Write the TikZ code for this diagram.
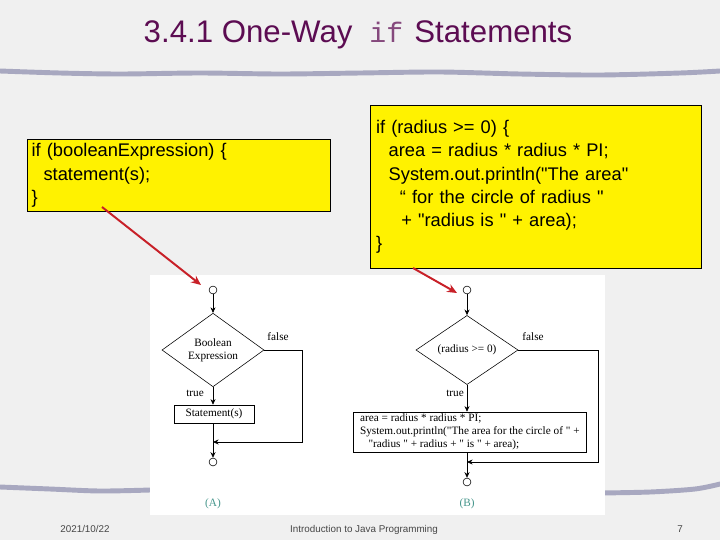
\documentclass[tikz,border=0pt]{standalone}
\usepackage{fontspec}
\setmainfont{Liberation Sans}[Ligatures=TeXOff]
\newfontfamily\chartfont{Liberation Serif}[Ligatures=TeXOff]
\setmonofont{Liberation Mono}
\usetikzlibrary{arrows.meta,shapes.geometric}
\definecolor{slidebg}{RGB}{240,240,240}
\definecolor{titlepurple}{RGB}{92,12,82}
\definecolor{barblue}{RGB}{168,168,192}
\definecolor{pointerred}{RGB}{200,32,40}
\definecolor{captionteal}{RGB}{70,150,140}
\definecolor{footgray}{RGB}{70,70,70}

\begin{document}
\begin{tikzpicture}[x=0.025cm,y=-0.025cm,>={Stealth[length=4pt,width=3.6pt]},
  codebox/.style={draw=black,fill=yellow,line width=0.6pt,anchor=north west,align=left,inner xsep=3pt,inner ysep=1pt,font=\fontsize{13}{16.5}\selectfont},
  terminal/.style={circle,draw,line width=0.4pt,minimum size=5.6pt,inner sep=0pt},
  decision/.style={diamond,draw,line width=0.4pt,minimum width=2.55cm,minimum height=1.5cm,inner sep=0pt,align=center,font=\chartfont\fontsize{8}{9.5}\selectfont},
  process/.style={rectangle,draw,line width=0.4pt,inner sep=0pt,font=\chartfont\fontsize{8}{9.2}\selectfont},
  flow/.style={->,line width=0.5pt},
  branch/.style={font=\chartfont\fontsize{8}{9.5}\selectfont},
  pointer/.style={-{Stealth[length=7pt,width=6pt]},pointerred,line width=1.4pt},
  bar/.style={barblue,line width=3.5pt,line cap=round,line join=round},
  footer/.style={text=footgray,anchor=base,font=\fontsize{7}{8}\selectfont}]
\fill[slidebg] (0,0) rectangle (720,540);
\useasboundingbox (0,0) rectangle (720,540);
% title and rules
\node[anchor=base,text=titlepurple,font=\fontsize{22.2}{26}\selectfont] (title) at (358,42)
  {3.4.1 One-Way\hspace{12pt}{\ttfamily\fontsize{20}{24}\selectfont\color{titlepurple!75}if}\hspace{8pt}Statements};
\draw[bar] plot[smooth] coordinates {(0,71) (60,73) (120,74) (200,73) (280,74) (360,73) (440,72) (520,74) (600,75) (680,73) (720,71)};
\draw[bar] plot[smooth] coordinates {(0,487) (50,489) (100,491) (150,490)};
\draw[bar] plot[smooth] coordinates {(600,493) (650,492) (695,489) (720,484)};
% code boxes
\node[codebox,minimum width=7.575cm,minimum height=1.8cm,text width=7.575cm-6pt] (codeA) at (27,139)
  {if (booleanExpression) \{\\\hspace{8.5pt}statement(s);\\\}};
\node[codebox,minimum width=8.275cm,minimum height=4.075cm,inner xsep=4pt,text width=8.275cm-8pt] (codeB) at (370,105)
  {if (radius  >= 0) \{\\
   \hspace{9pt}area = radius * radius * PI;\\
   \hspace{9pt}System.out.println("The area"\\
   \hspace{17pt}“ for the circle of radius "\\
   \hspace{18pt}+ "radius is " + area);\\
   \}};
% flowchart image
\fill[white] (150,275) rectangle (605,515);
% (A)
\node[terminal] (Astart) at (213,290) {};
\node[decision] (Adia) at (213,350) {Boolean\\Expression};
\node[process,minimum width=2cm,minimum height=0.45cm] (Astmt) at (214,414) {Statement(s)};
\node[terminal] (Aend) at (213,462) {};
\coordinate (Ajoin) at (213,442);
\draw[flow] (Astart) -- (Adia);
\draw[flow] (Adia) -- (Adia |- Astmt.north);
\draw[flow] (Aend |- Astmt.south) -- (Aend);
\draw[flow] (Adia.east) -- ++(38,0) |- (Ajoin);
\node[branch] (Afalse) at (278,337) {false};
\node[branch] (Atrue) at (195,393) {true};
\node[branch,text=captionteal] (capA) at (213,504) {(A)};
% (B)
\node[terminal] (Bstart) at (467,290) {};
\node[decision] (Bdia) at (467,350) {(radius >= 0)};
\node[process,anchor=west,align=left,minimum width=5.825cm,minimum height=1cm] (Bstmt) at (353,432)
  {area = radius * radius * PI;\\System.out.println("The area for the circle of " +\\\hspace{6pt}"radius " + radius + " is " + area);};
\node[terminal] (Bend) at (467,482) {};
\coordinate (Bjoin) at (467,462);
\draw[flow] (Bstart) -- (Bdia);
\draw[flow] (Bdia.south) -- (Bdia.south |- Bstmt.north);
\draw[flow] (Bend |- Bstmt.south) -- (Bend);
\draw[flow] (Bdia.east) -- ++(80,0) |- (Bjoin);
\node[branch] (Bfalse) at (533,337) {false};
\node[branch] (Btrue) at (455,393) {true};
\node[branch,text=captionteal] (capB) at (467,504) {(B)};
% pointers
\coordinate (ptrAtail) at (102,207);
\coordinate (ptrAhead) at (201,285);
\coordinate (ptrBtail) at (413,268);
\coordinate (ptrBhead) at (457,293);
\draw[pointer] (ptrAtail) -- (ptrAhead);
\draw[pointer] (ptrBtail) -- (ptrBhead);
% footer
\node[footer] (date) at (85,532) {2021/10/22};
\node[footer] (course) at (364,532) {Introduction to Java Programming};
\node[footer] (page) at (680,532) {7};
\end{tikzpicture}
\end{document}
